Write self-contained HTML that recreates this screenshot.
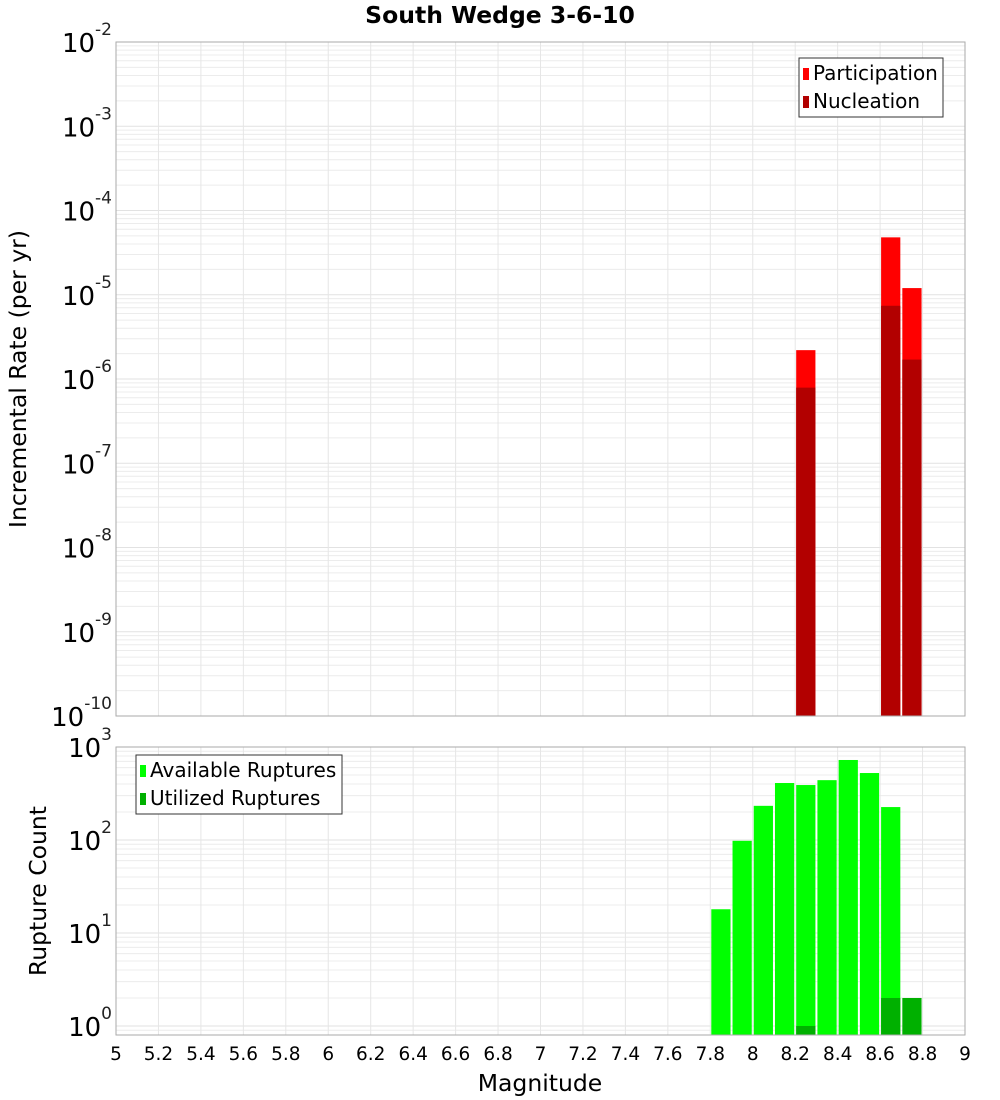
<!DOCTYPE html>
<html><head><meta charset="utf-8"><style>
body{margin:0;background:#fff}
svg{display:block;font-family:"DejaVu Sans","Liberation Sans",sans-serif}
</style></head><body>
<svg id="c" width="1000" height="1100" xmlns="http://www.w3.org/2000/svg">
<rect width="1000" height="1100" fill="#fff"/>
<text x="500" y="23" text-anchor="middle" font-size="23.5" font-weight="bold">South Wedge 3-6-10</text>
<g id="g"></g>
</svg>
<script>
const binMags = [7.8, 7.9, 8.0, 8.1, 8.2, 8.3, 8.4, 8.5, 8.6, 8.7];
const participation = [0, 0, 0, 0, 2.2e-6, 0, 0, 0, 4.8e-5, 1.2e-5];
const nucleation = [0, 0, 0, 0, 7.9e-7, 0, 0, 0, 7.4e-6, 1.7e-6];
const available = [18, 98, 233, 410, 390, 440, 725, 525, 226, 0];
const utilized = [0, 0, 0, 0, 1, 0, 0, 0, 2, 2];
const xTicks = [5,5.2,5.4,5.6,5.8,6,6.2,6.4,6.6,6.8,7,7.2,7.4,7.6,7.8,8,8.2,8.4,8.6,8.8,9];
const topDecades = [-10,-9,-8,-7,-6,-5,-4,-3,-2];
const botDecades = [0,1,2,3];

const NS = "http://www.w3.org/2000/svg";
const g = document.getElementById('g');
function el(t, a, p) { const e = document.createElementNS(NS, t); for (const k in a) e.setAttribute(k, a[k]); (p || g).appendChild(e); return e; }

const X0 = 116, X1 = 965;
const xs = m => X0 + (m - 5) / 4 * (X1 - X0);
const T0 = 42, T1 = 716;
const ysT = v => T0 + (-2 - Math.log10(v)) / 8 * (T1 - T0);
const B0 = 747, B1 = 1035, BMIN = Math.log10(0.8), BMAX = 3;
const ysB = v => B0 + (BMAX - Math.log10(v)) / (BMAX - BMIN) * (B1 - B0);

function grid(top, bot, ys, dlo, dhi) {
  for (let d = dlo; d < dhi; d++) for (let k = 1; k < 10; k++) {
    const v = k * Math.pow(10, d); const y = ys(v);
    if (y < top - 0.5 || y > bot + 0.5) continue;
    const l = el('line', { x1: X0, x2: X1, y1: y, y2: y, stroke: k === 1 ? '#e2e2e2' : '#ececec', 'stroke-width': 1 });
    
    
  }
  xTicks.forEach(m => {
    const l = el('line', { x1: xs(m), x2: xs(m), y1: top, y2: bot, stroke: '#e6e6e6' });
    
    
  });
}
grid(T0, T1, ysT, -10, -1);
grid(B0, B1, ysB, -1, 4);

const bw = (X1 - X0) / 40;
binMags.forEach((m, i) => {
  const x = xs(m) + 1, w = bw - 2;
  if (participation[i] > 0) {
    const r = el('rect', { x, y: ysT(participation[i]), width: w, height: T1 - ysT(participation[i]), fill: '#ff0000' });
    
    
  }
  if (nucleation[i] > 0) {
    const r = el('rect', { x, y: ysT(nucleation[i]), width: w, height: T1 - ysT(nucleation[i]), fill: '#b20000' });
    
    
  }
  if (available[i] > 0) {
    const r = el('rect', { x, y: ysB(available[i]), width: w, height: B1 - ysB(available[i]), fill: '#00ff00' });
    
    
  }
  if (utilized[i] > 0) {
    const r = el('rect', { x, y: ysB(utilized[i]), width: w, height: B1 - ysB(utilized[i]), fill: '#00b000' });
    
    
  }
});

const f1 = el('rect', { x: X0, y: T0, width: X1 - X0, height: T1 - T0, fill: 'none', stroke: '#aaa' });


const f2 = el('rect', { x: X0, y: B0, width: X1 - X0, height: B1 - B0, fill: 'none', stroke: '#aaa' });



function ylab(y, d) {
  const t = el('text', { x: 112, y: y + 10, 'text-anchor': 'end', 'font-size': 26 });
  
  
  const s1 = el('tspan', {}, t); s1.textContent = '10';
  const s2 = el('tspan', { dy: -17, 'font-size': 17, fill: '#222' }, t); s2.textContent = String(d);
}
topDecades.forEach(d => ylab(ysT(Math.pow(10, d)), d));
botDecades.forEach(d => ylab(ysB(Math.pow(10, d)), d));

xTicks.forEach(m => {
  const t = el('text', { x: xs(m), y: 1060, 'text-anchor': 'middle', 'font-size': 18.5 });
  
  
  t.textContent = String(m);
});

const xt = el('text', { x: 540, y: 1091, 'text-anchor': 'middle', 'font-size': 23.5 });


xt.textContent = 'Magnitude';
const yt1 = el('text', { x: 0, y: 0, 'text-anchor': 'middle', 'font-size': 23.5, transform: 'translate(26,379) rotate(-90)' });


yt1.textContent = 'Incremental Rate (per yr)';
const yt2 = el('text', { x: 0, y: 0, 'text-anchor': 'middle', 'font-size': 23.5, transform: 'translate(46,891) rotate(-90)' });


yt2.textContent = 'Rupture Count';

function legend(x, y, w, items, nm) {
  const lg = el('g', {});
  
  
  el('rect', { x, y, width: w, height: 59, fill: '#fff', stroke: '#333' }, lg);
  items.forEach((it, i) => {
    el('rect', { x: x + 4, y: y + 10 + i * 28, width: 6, height: 12, fill: it[1] }, lg);
    const t = el('text', { x: x + 14, y: y + 22 + i * 28, 'font-size': 20 }, lg);
    
    
    t.textContent = it[0];
  });
}
legend(799, 58, 144, [['Participation', '#ff0000'], ['Nucleation', '#b20000']], 'top-legend');
legend(136, 755, 206, [['Available Ruptures', '#00ff00'], ['Utilized Ruptures', '#00b000']], 'bottom-legend');
</script>
</body></html>
